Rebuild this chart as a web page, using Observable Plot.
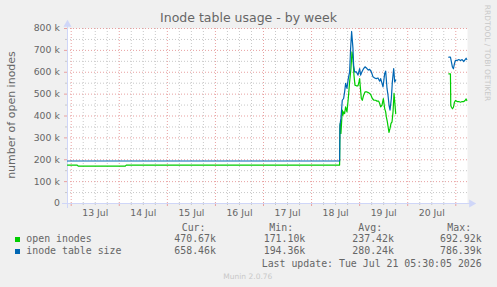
<!DOCTYPE html>
<html>
<head>
<meta charset="utf-8">
<script src="https://cdn.jsdelivr.net/npm/d3@7"></script>
<script src="https://cdn.jsdelivr.net/npm/@observablehq/plot@0.6"></script>
<style>
  html, body { margin: 0; padding: 0; background: #f0f0f0; }
  #wrap { position: relative; width: 497px; height: 287px; background: #f0f0f0; overflow: hidden; }
  #wrap svg { position: absolute; left: 0; top: 0; }
  .t { position: absolute; line-height: 1; white-space: pre; color: #666; }
  .mono { font-family: "DejaVu Sans Mono", monospace; font-size: 9.9px; }
  .sq { position: absolute; width: 5px; height: 5px; }
</style>
</head>
<body>
<div id="wrap"></div>
<script>
// ---- data (values in thousands) ----
const title = "Inode table usage - by week";
const yTitle = "number of open inodes";
const seriesNames = ["open inodes", "inode table size"];
const seriesColors = ["#00CC00", "#0066B3"];

const dayTicks = ["2026-07-13T12:00Z","2026-07-14T12:00Z","2026-07-15T12:00Z","2026-07-16T12:00Z",
  "2026-07-17T12:00Z","2026-07-18T12:00Z","2026-07-19T12:00Z","2026-07-20T12:00Z"];
const dayLabels = ["13 Jul","14 Jul","15 Jul","16 Jul","17 Jul","18 Jul","19 Jul","20 Jul"];
const yTicks = [0,100,200,300,400,500,600,700,800];
const yLabels = ["0","100 k","200 k","300 k","400 k","500 k","600 k","700 k","800 k"];

const openTimes = [
  "2026-07-12T22:09Z","2026-07-13T03:00Z","2026-07-13T03:30Z","2026-07-14T03:00Z","2026-07-14T03:30Z",
  "2026-07-18T14:00Z","2026-07-18T14:10Z","2026-07-18T14:20Z","2026-07-18T14:40Z","2026-07-18T15:00Z",
  "2026-07-18T15:20Z","2026-07-18T15:40Z","2026-07-18T16:00Z","2026-07-18T16:30Z","2026-07-18T17:00Z",
  "2026-07-18T17:40Z","2026-07-18T18:20Z","2026-07-18T19:00Z","2026-07-18T19:40Z","2026-07-18T20:10Z",
  "2026-07-18T20:40Z","2026-07-18T21:10Z","2026-07-18T21:40Z","2026-07-18T22:20Z","2026-07-18T23:10Z",
  "2026-07-18T23:40Z","2026-07-19T00:00Z","2026-07-19T00:20Z","2026-07-19T00:50Z","2026-07-19T01:20Z",
  "2026-07-19T02:00Z","2026-07-19T02:40Z","2026-07-19T03:40Z","2026-07-19T04:20Z","2026-07-19T05:00Z",
  "2026-07-19T05:40Z","2026-07-19T06:20Z","2026-07-19T07:10Z","2026-07-19T08:00Z","2026-07-19T08:40Z",
  "2026-07-19T09:30Z","2026-07-19T10:00Z","2026-07-19T10:30Z","2026-07-19T11:10Z","2026-07-19T11:50Z",
  "2026-07-19T12:30Z","2026-07-19T13:00Z","2026-07-19T13:20Z","2026-07-19T13:50Z","2026-07-19T14:20Z",
  "2026-07-19T14:40Z","2026-07-19T15:10Z","2026-07-19T15:40Z","2026-07-19T16:10Z","2026-07-19T16:40Z",
  "2026-07-19T17:10Z","2026-07-19T17:40Z","2026-07-19T18:00Z","2026-07-19T18:30Z",
  "2026-07-20T20:30Z","2026-07-20T21:20Z","2026-07-20T21:30Z","2026-07-20T21:50Z","2026-07-20T22:20Z",
  "2026-07-20T22:50Z","2026-07-20T23:20Z","2026-07-20T23:50Z","2026-07-21T00:40Z","2026-07-21T01:30Z",
  "2026-07-21T02:20Z","2026-07-21T03:10Z","2026-07-21T04:00Z","2026-07-21T04:40Z","2026-07-21T05:10Z",
  "2026-07-21T05:30Z"];
const openValues = [
  175.7,175.7,171.1,171.1,175.7,
  175.7,343,366,320,373,
  427,404,419,411,442,
  419,480,556,617,692.9,
  663,587,541,538,538,
  556,571,533,480,472,
  495,510,510,507,503,
  495,480,472,472,468,
  468,457,442,450,480,
  434,419,396,373,343,
  325,343,366,373,419,
  503,450,411,null,
  593,593,448,440,433,
  440,463,471,466,466,
  463,466,466,471,478,
  470.7];

const sizeTimes = [
  "2026-07-12T22:09Z","2026-07-18T14:00Z","2026-07-18T14:10Z","2026-07-18T14:40Z","2026-07-18T15:20Z",
  "2026-07-18T16:00Z","2026-07-18T16:30Z","2026-07-18T17:00Z","2026-07-18T17:40Z","2026-07-18T18:20Z",
  "2026-07-18T19:00Z","2026-07-18T19:30Z","2026-07-18T20:00Z","2026-07-18T20:40Z","2026-07-18T21:00Z",
  "2026-07-18T21:30Z","2026-07-18T22:20Z","2026-07-18T23:10Z","2026-07-19T00:00Z","2026-07-19T00:30Z",
  "2026-07-19T01:10Z","2026-07-19T02:00Z","2026-07-19T02:40Z","2026-07-19T03:40Z","2026-07-19T04:20Z",
  "2026-07-19T05:00Z","2026-07-19T05:50Z","2026-07-19T06:40Z","2026-07-19T07:30Z","2026-07-19T08:20Z",
  "2026-07-19T09:10Z","2026-07-19T10:00Z","2026-07-19T10:30Z","2026-07-19T11:10Z","2026-07-19T11:40Z",
  "2026-07-19T12:30Z","2026-07-19T13:00Z","2026-07-19T13:40Z","2026-07-19T14:10Z","2026-07-19T14:40Z",
  "2026-07-19T15:10Z","2026-07-19T15:50Z","2026-07-19T16:20Z","2026-07-19T17:00Z","2026-07-19T17:30Z",
  "2026-07-19T18:00Z","2026-07-19T18:30Z",
  "2026-07-20T20:30Z","2026-07-20T21:20Z","2026-07-20T21:50Z","2026-07-20T22:20Z","2026-07-20T22:50Z",
  "2026-07-20T23:20Z","2026-07-20T23:50Z","2026-07-21T00:40Z","2026-07-21T01:30Z","2026-07-21T02:20Z",
  "2026-07-21T03:10Z","2026-07-21T04:00Z","2026-07-21T04:40Z","2026-07-21T05:10Z","2026-07-21T05:30Z"];
const sizeValues = [
  194.4,194.4,358,389,472,
  480,510,549,526,571,
  602,709,786.4,709,632,
  602,602,587,617,587,
  602,617,625,617,610,
  613,602,579,574,571,
  574,559,571,549,533,
  594,605,526,495,450,
  427,480,556,617,556,
  564,null,
  669,669,646,623,616,
  639,654,654,658,654,
  658,649,658,664,658.5];

const legendHeaders = ["Cur:","Min:","Avg:","Max:"];
const openStats = ["470.67k","171.10k","237.42k","692.92k"];
const sizeStats = ["658.46k","194.36k","280.24k","786.39k"];
const lastUpdate = "Last update: Tue Jul 21 05:30:05 2026";
const footer = "Munin 2.0.76";
const watermark = "RRDTOOL / TOBI OETIKER";

// ---- build ----
const rows = (ts, vs) => ts.map((t, i) => ({t: new Date(t), v: vs[i]}));
const openData = rows(openTimes, openValues);
const sizeData = rows(sizeTimes, sizeValues);

const xDomain = [new Date("2026-07-12T22:09:00Z"), new Date("2026-07-21T05:51:00Z")];
const majorX = d3.utcDay.range(xDomain[0], xDomain[1]);
const minorX = d3.utcHour.every(6).range(xDomain[0], xDomain[1]).filter(d => d.getUTCHours() !== 0);
const majorY = yTicks;
const minorY = d3.range(50, 800, 100);
const dayLabelMap = new Map(dayTicks.map((d, i) => [+new Date(d), dayLabels[i]]));
const yLabelMap = new Map(yTicks.map((d, i) => [d, yLabels[i]]));
const axisColor = "#CFD6F8";
const majorGrid = "#e8a0a0";
const minorGrid = "#c8c8c8";

const chart = Plot.plot({
  width: 497, height: 287,
  marginLeft: 67, marginRight: 30, marginTop: 28, marginBottom: 84,
  style: {background: "transparent", fontFamily: "DejaVu Sans", fontSize: "9.3px", color: "#666", overflow: "visible"},
  x: {type: "utc", domain: xDomain},
  y: {domain: [0, 800]},
  marks: [
    Plot.frame({fill: "white", stroke: "none"}),
    Plot.ruleX(minorX, {stroke: minorGrid, strokeDasharray: "1,2"}),
    Plot.ruleY(minorY, {stroke: minorGrid, strokeDasharray: "1,2"}),
    Plot.ruleX(majorX, {stroke: majorGrid, strokeDasharray: "1,2"}),
    Plot.ruleY(majorY, {stroke: majorGrid, strokeDasharray: "1,2"}),
    // small tick marks
    Plot.ruleX(minorX, {y1: 0, y2: 0, insetBottom: -2, stroke: minorGrid}),
    Plot.ruleX(majorX, {y1: 0, y2: 0, insetBottom: -3, stroke: majorGrid}),
    Plot.ruleY(minorY, {x1: xDomain[0], x2: xDomain[0], insetLeft: -2, stroke: minorGrid}),
    Plot.ruleY(majorY, {x1: xDomain[0], x2: xDomain[0], insetLeft: -3, stroke: majorGrid}),
    // axis lines
    Plot.ruleY([0], {stroke: axisColor, insetLeft: -5, insetRight: -3}),
    Plot.ruleX([xDomain[0]], {stroke: axisColor, insetTop: -3, insetBottom: -5}),
    Plot.dot([{t: xDomain[1], v: 0}], {x: "t", y: "v", symbol: "triangle", r: 3, fill: axisColor, stroke: null, rotate: 90, dx: 4}),
    Plot.dot([{t: xDomain[0], v: 800}], {x: "t", y: "v", symbol: "triangle", r: 3, fill: axisColor, stroke: null, dy: -4}),
    // series
    Plot.line(openData, {x: "t", y: "v", stroke: seriesColors[0], strokeWidth: 1.2}),
    Plot.line(sizeData, {x: "t", y: "v", stroke: seriesColors[1], strokeWidth: 1.2}),
    // axes labels
    Plot.axisX({ticks: dayTicks.map(d => new Date(d)), tickSize: 0, tickPadding: 6,
      tickFormat: d => dayLabelMap.get(+d), fill: "#666", label: null}),
    Plot.axisY({ticks: yTicks, tickSize: 0, tickPadding: 7.7,
      tickFormat: d => yLabelMap.get(d), fill: "#666", label: null})
  ]
});

const wrap = document.getElementById("wrap");
wrap.appendChild(chart);

function addText(txt, cls, css) {
  const el = document.createElement("div");
  el.className = "t " + (cls || "");
  el.textContent = txt;
  Object.assign(el.style, css);
  wrap.appendChild(el);
  return el;
}
// title
addText(title, "", {left: "0px", width: "497px", textAlign: "center", top: "12.2px",
  fontFamily: "DejaVu Sans", fontSize: "12.5px", color: "#666"});
// y title
addText(yTitle, "", {left: "11.2px", top: "115px", fontFamily: "DejaVu Sans", fontSize: "11px",
  transform: "translate(-50%,-50%) rotate(-90deg)", color: "#666"});
// watermark
addText(watermark, "", {left: "486.5px", top: "53px", fontFamily: "DejaVu Sans", fontSize: "7.5px",
  transform: "translate(-50%,-50%) rotate(90deg)", color: "#c8c8c8"});

// legend
const colX = [181.7, 269.3, 358.3, 447.3];
const valX = [174.3, 263.7, 352.3, 440];
legendHeaders.forEach((h, i) => addText(h, "mono", {left: colX[i] + "px", top: "222.5px"}));
[openStats, sizeStats].forEach((stats, r) => {
  const top = r === 0 ? 234.2 : 246.2;
  const sq = document.createElement("div");
  sq.className = "sq";
  sq.style.left = "14.7px";
  sq.style.top = (r === 0 ? 237.3 : 249.3) + "px";
  sq.style.background = seriesColors[r];
  wrap.appendChild(sq);
  addText(seriesNames[r], "mono", {left: "26.3px", top: top + "px"});
  stats.forEach((s, i) => addText(s, "mono", {left: valX[i] + "px", top: top + "px"}));
});
addText(lastUpdate, "mono", {left: "261.7px", top: "258.5px"});
addText(footer, "", {left: "223.3px", top: "273px", fontFamily: "DejaVu Sans", fontSize: "7.5px", color: "#c8c8c8"});
</script>
</body>
</html>
